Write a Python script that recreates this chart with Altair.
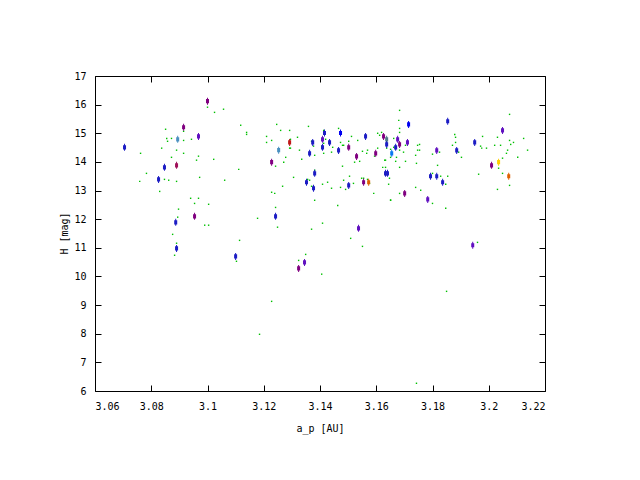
import altair as alt
import pandas as pd

# ---- background population (small green dots) ----
bg_a = [3.1000, 3.1025, 3.1057, 3.0851, 3.0855, 3.0872, 3.0858, 3.0915, 3.0915, 3.0943,
        3.0837, 3.0890, 3.0762, 3.0915, 3.0872, 3.0968, 3.0961, 3.1022, 3.1111, 3.0783,
        3.0759, 3.0847, 3.0862, 3.0890, 3.0972, 3.1061, 3.0830, 3.0940, 3.0968, 3.0954,
        3.1004, 3.0897, 3.0894, 3.0876, 3.0890, 3.0883, 3.0990, 3.1004, 3.1114, 3.1103,
        3.1178, 3.1242, 3.1249, 3.1228, 3.1185, 3.1370, 3.1324, 3.1349, 3.1381, 3.1463,
        3.1651, 3.1800, 3.1847, 3.1409, 3.1406, 3.1509, 3.1551, 3.1960, 3.1850, 3.1743,
        3.1118, 3.1139, 3.1139, 3.1246, 3.1260, 3.1292, 3.1359, 3.1210, 3.1228, 3.1210,
        3.1295, 3.1320, 3.1413, 3.1466, 3.1292, 3.1295, 3.1327, 3.1278, 3.1335, 3.1242,
        3.1271, 3.1306, 3.1267, 3.1228, 3.1239, 3.1370, 3.1377, 3.1406, 3.1413, 3.1420,
        3.1445, 3.1473, 3.1480, 3.1484, 3.1502, 3.1512, 3.1534, 3.1569, 3.1551, 3.1566,
        3.1605, 3.1605, 3.1594, 3.1441, 3.1413, 3.1381, 3.1523, 3.1541, 3.1480, 3.1363,
        3.1370, 3.1356, 3.1381, 3.1409, 3.1427, 3.1441, 3.1473, 3.1484, 3.1505, 3.1491,
        3.1519, 3.1548, 3.1555, 3.1569, 3.1576, 3.1591, 3.1683, 3.1680, 3.1683, 3.1683,
        3.1619, 3.1612, 3.1637, 3.1662, 3.1637, 3.1651, 3.1662, 3.1683, 3.1697, 3.1704,
        3.1630, 3.1633, 3.1651, 3.1672, 3.1669, 3.1704, 3.1623, 3.1633, 3.1683, 3.1647,
        3.1644, 3.1683, 3.1651, 3.1740, 3.1747, 3.1754, 3.1754, 3.1747, 3.1743, 3.1740,
        3.1758, 3.1800, 3.1818, 3.1800, 3.1825, 3.1829, 3.1854, 3.1847, 3.1879, 3.1882,
        3.1882, 3.1871, 3.1903, 3.1893, 3.1978, 3.1971, 3.1975, 3.1992, 3.1964, 3.2021,
        3.2031, 3.2042, 3.2074, 3.2074, 3.2088, 3.2078, 3.2067, 3.2063, 3.2049, 3.2124,
        3.2138, 3.2103, 3.2035, 3.2049, 3.2074, 3.2031]
bg_H = [15.91, 15.73, 15.84, 15.14, 14.82, 14.82, 14.72, 15.07, 14.75, 14.79,
        14.48, 14.41, 14.30, 14.30, 14.16, 14.20, 14.06, 14.09, 13.74, 13.60,
        13.32, 13.39, 13.36, 13.32, 13.46, 13.36, 12.97, 12.73, 12.73, 12.55,
        12.52, 12.35, 12.07, 11.47, 11.16, 10.74, 11.79, 11.79, 11.26, 10.53,
        12.03, 12.41, 11.72, 9.13, 7.98, 11.65, 10.56, 10.77, 12.66, 12.48,
        12.67, 12.55, 12.38, 11.86, 10.08, 11.33, 11.05, 11.19, 9.48, 6.27,
        15.28, 15.03, 14.96, 15.31, 15.10, 15.10, 15.24, 14.89, 14.75, 14.68,
        14.79, 14.86, 15.10, 15.17, 14.48, 14.48, 14.41, 14.16, 14.09, 13.85,
        13.99, 13.46, 13.15, 12.94, 12.90, 14.72, 14.55, 14.55, 14.65, 14.79,
        14.51, 14.68, 14.58, 14.58, 14.72, 14.89, 14.75, 14.41, 14.37, 14.30,
        15.00, 14.48, 14.20, 14.34, 14.30, 14.23, 13.99, 14.02, 13.85, 13.36,
        13.15, 13.39, 13.71, 13.22, 13.29, 13.08, 13.11, 13.36, 13.50, 13.04,
        13.25, 13.43, 13.43, 13.39, 13.25, 12.90, 15.80, 15.45, 15.17, 15.03,
        15.03, 14.93, 14.68, 14.82, 14.48, 14.44, 14.51, 14.41, 14.34, 14.58,
        14.06, 14.06, 14.16, 14.16, 14.02, 14.02, 13.81, 13.81, 13.81, 13.43,
        13.22, 12.90, 12.66, 14.23, 14.41, 14.41, 14.61, 14.58, 13.95, 13.11,
        13.01, 13.60, 13.88, 14.27, 14.34, 13.50, 13.50, 13.22, 14.96, 14.86,
        14.68, 14.58, 14.16, 14.34, 14.89, 14.55, 14.48, 14.48, 13.57, 14.58,
        14.86, 14.58, 15.66, 14.75, 14.68, 14.61, 14.41, 14.30, 14.13, 14.82,
        14.41, 14.16, 13.78, 13.60, 13.18, 13.04]

# ---- highlighted objects (coloured markers) ----
fg_a = [3.0705, 3.0826, 3.0847, 3.0890, 3.0894, 3.0915, 3.0968, 3.1000, 3.0887, 3.0890,
        3.0954, 3.1100, 3.1242, 3.1324, 3.1345, 3.1228, 3.1253, 3.1292, 3.1363, 3.1374,
        3.1352, 3.1377, 3.1381, 3.1416, 3.1409, 3.1409, 3.1434, 3.1473, 3.1466, 3.1502,
        3.1502, 3.1530, 3.1555, 3.1573, 3.1562, 3.1598, 3.1626, 3.1637, 3.1637, 3.1655,
        3.1669, 3.1676, 3.1683, 3.1711, 3.1715, 3.1633, 3.1640, 3.1701, 3.1783, 3.1793,
        3.1815, 3.1815, 3.1836, 3.1854, 3.1886, 3.1950, 3.2049, 3.2010, 3.2035, 3.2071,
        3.1537, 3.1943]
fg_H = [14.51, 13.39, 13.81, 13.88, 14.79, 15.21, 14.89, 16.12, 11.89, 10.98,
        12.10, 10.70, 12.10, 10.28, 10.49, 13.99, 14.41, 14.68, 14.30, 14.68,
        13.29, 13.08, 13.60, 15.01, 14.79, 14.51, 14.68, 15.01, 14.40, 14.51,
        13.18, 14.19, 13.29, 13.29, 14.89, 14.30, 14.89, 14.79, 14.61, 14.30,
        14.51, 14.79, 14.61, 14.68, 15.31, 13.60, 13.60, 12.90, 12.69, 13.50,
        13.50, 14.40, 13.29, 15.42, 14.40, 14.68, 15.10, 13.88, 13.99, 13.50,
        11.68, 11.09]
fg_group = ["blue", "blue", "blue", "crimson", "steel", "purple", "violet", "purple", "blue", "blue",
            "purple", "blue", "blue", "purple", "violet", "purple", "steel", "red", "blue", "blue",
            "blue", "blue", "blue", "blue", "violet", "blue", "blue", "bright", "blue", "purple",
            "blue", "purple", "purple", "orange", "blue", "purple", "purple", "slate", "blue", "azure",
            "blue", "violet", "purple", "violet", "bright", "blue", "blue", "purple", "violet", "blue",
            "blue", "violet", "blue", "blue", "blue", "blue", "violet", "purple", "yellow", "orange",
            "violet", "violet"]

group_names = ["blue", "bright", "azure", "steel", "slate", "violet", "purple", "crimson", "red", "orange", "yellow"]
group_colors = ["#1c1cc4", "#0000f0", "#0a78f0", "#4a90c0", "#507888", "#6010c0", "#800080", "#a0105a", "#c01818", "#e06000", "#ffd000"]

x_ticks = [3.06, 3.08, 3.10, 3.12, 3.14, 3.16, 3.18, 3.20, 3.22]
y_ticks = [6, 7, 8, 9, 10, 11, 12, 13, 14, 15, 16, 17]

bg = pd.DataFrame({"a_p": bg_a, "H": bg_H})
fg = pd.DataFrame({"a_p": fg_a, "H": fg_H, "group": fg_group})

FONT = "DejaVu Sans Mono"
xs = alt.Scale(domain=[3.06, 3.22], nice=False, zero=False)
ys = alt.Scale(domain=[6, 17], nice=False, zero=False)

# main layer: labels & titles
main = alt.Chart(bg).mark_square(size=2, color="#00c000", opacity=1).encode(
    x=alt.X("a_p:Q", scale=xs,
            axis=alt.Axis(values=x_ticks, format=".3~g", title="a_p [AU]", tickSize=0,
                          labelPadding=10, domain=False, grid=False,
                          titleX=225, titleY=37, titleBaseline="middle", titleAlign="center")),
    y=alt.Y("H:Q", scale=ys,
            axis=alt.Axis(values=y_ticks, title="H [mag]", tickSize=0, labelPadding=9,
                          domain=False, grid=False,
                          titleX=-31, titleY=157, titleAngle=-90,
                          titleBaseline="middle", titleAlign="center")),
)

marker = "M-0.43,-0.6H0.43V0.6H-0.43Z M-0.14,-1H0.14V1H-0.14Z"

# coloured markers, carrying inward ticks on bottom/left
fgl = alt.Chart(fg).mark_point(shape=marker, size=49, filled=True, opacity=1, strokeWidth=0).encode(
    x=alt.X("a_p:Q", scale=xs,
            axis=alt.Axis(orient="bottom", values=x_ticks, labels=False, title=None, domain=False,
                          grid=False, tickSize=6, offset=-6)),
    y=alt.Y("H:Q", scale=ys,
            axis=alt.Axis(orient="left", values=y_ticks, labels=False, title=None, domain=False,
                          grid=False, tickSize=6, offset=-6)),
    color=alt.Color("group:N", scale=alt.Scale(domain=group_names, range=group_colors), legend=None),
)

# invisible layer carrying inward ticks on top/right
mirror = alt.Chart(fg).mark_point(opacity=0).encode(
    x=alt.X("a_p:Q", scale=xs,
            axis=alt.Axis(orient="top", values=x_ticks, labels=False, title=None, domain=False,
                          grid=False, tickSize=6, offset=-6)),
    y=alt.Y("H:Q", scale=ys,
            axis=alt.Axis(orient="right", values=y_ticks, labels=False, title=None, domain=False,
                          grid=False, tickSize=6, offset=-6)),
)

chart = alt.layer(main, fgl, mirror).resolve_scale(
    x="independent", y="independent"
).resolve_axis(
    x="independent", y="independent"
).properties(
    width=450, height=315,
    autosize=alt.AutoSizeParams(type="none"),
    padding={"left": 87, "top": 68, "right": 80, "bottom": 70},
    background="white",
).configure_view(
    stroke="black", strokeWidth=1
).configure_axis(
    labelFont=FONT, titleFont=FONT, labelFontSize=10, titleFontSize=10,
    labelColor="black", titleColor="black", tickColor="black", tickWidth=1,
    titleFontWeight="normal",
)

chart.save("out.html", embed_options={"renderer": "svg", "actions": False})
